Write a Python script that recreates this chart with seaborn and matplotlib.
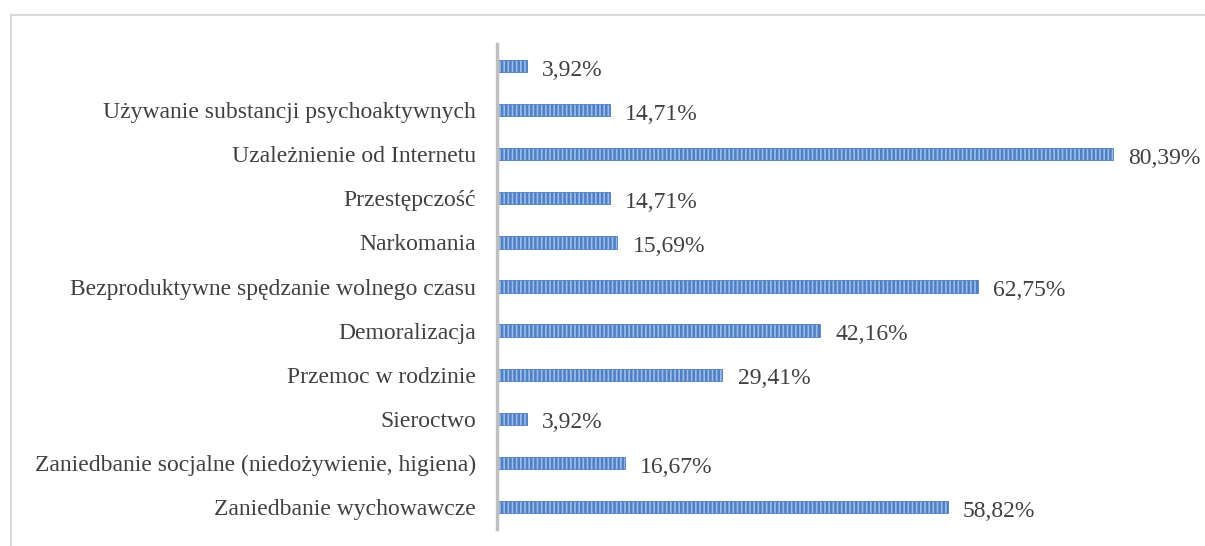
import numpy as np
import matplotlib.pyplot as plt
import seaborn as sns
import pandas as pd
from matplotlib.patches import Rectangle

categories = ['', 'Używanie substancji psychoaktywnych', 'Uzależnienie od Internetu',
              'Przestępczość', 'Narkomania', 'Bezproduktywne spędzanie wolnego czasu',
              'Demoralizacja', 'Przemoc w rodzinie', 'Sieroctwo',
              'Zaniedbanie socjalne (niedożywienie, higiena)', 'Zaniedbanie wychowawcze']
values = [3.92, 14.71, 80.39, 14.71, 15.69, 62.75, 42.16, 29.41, 3.92, 16.67, 58.82]

df = pd.DataFrame({'cat': [c if c else ' ' for c in categories], 'val': values})

sns.set_style('white')
plt.rcParams['font.family'] = ['Liberation Serif', 'DejaVu Serif']
plt.rcParams['hatch.linewidth'] = 1.8

fig = plt.figure(figsize=(12.05, 5.46), dpi=100)
W, H = 1205, 546
ax = fig.add_axes([497 / W, 1 - 529 / H, 690 / W, (529 - 44) / H])

sns.barplot(data=df, x='val', y='cat', orient='h', color='#9dbde8',
            width=0.28, ax=ax, saturation=1)
for p in ax.patches:
    p.set_hatch('||||')
    p.set_edgecolor('#4f7fc4')
    p.set_linewidth(0.6)

ax.set_xlim(0, 690 / 7.663)
ax.set_ylim(10.5, -0.5)
ax.set_xlabel('')
ax.set_ylabel('')
ax.set_xticks([])
ax.tick_params(axis='y', length=0, pad=15, labelsize=17, labelcolor='#404040')
for s in ['top', 'right', 'bottom']:
    ax.spines[s].set_visible(False)
ax.spines['left'].set_color('#bfbfbf')
ax.spines['left'].set_linewidth(2.5)

labels = [f'{v:.2f}'.replace('.', ',') + '%' for v in values]
txts = ax.bar_label(ax.containers[0], labels=labels, padding=11, fontsize=17, color='#404040')
for t in txts:
    x, y = t.xyann
    t.xyann = (x, y - 3)

fig.patches.append(Rectangle((11 / W, -0.1), 1.2, 1 - 15 / H + 0.1,
                             transform=fig.transFigure, fill=False,
                             edgecolor='#d9d9d9', linewidth=1.5))

fig.savefig('out.png', dpi=100)
